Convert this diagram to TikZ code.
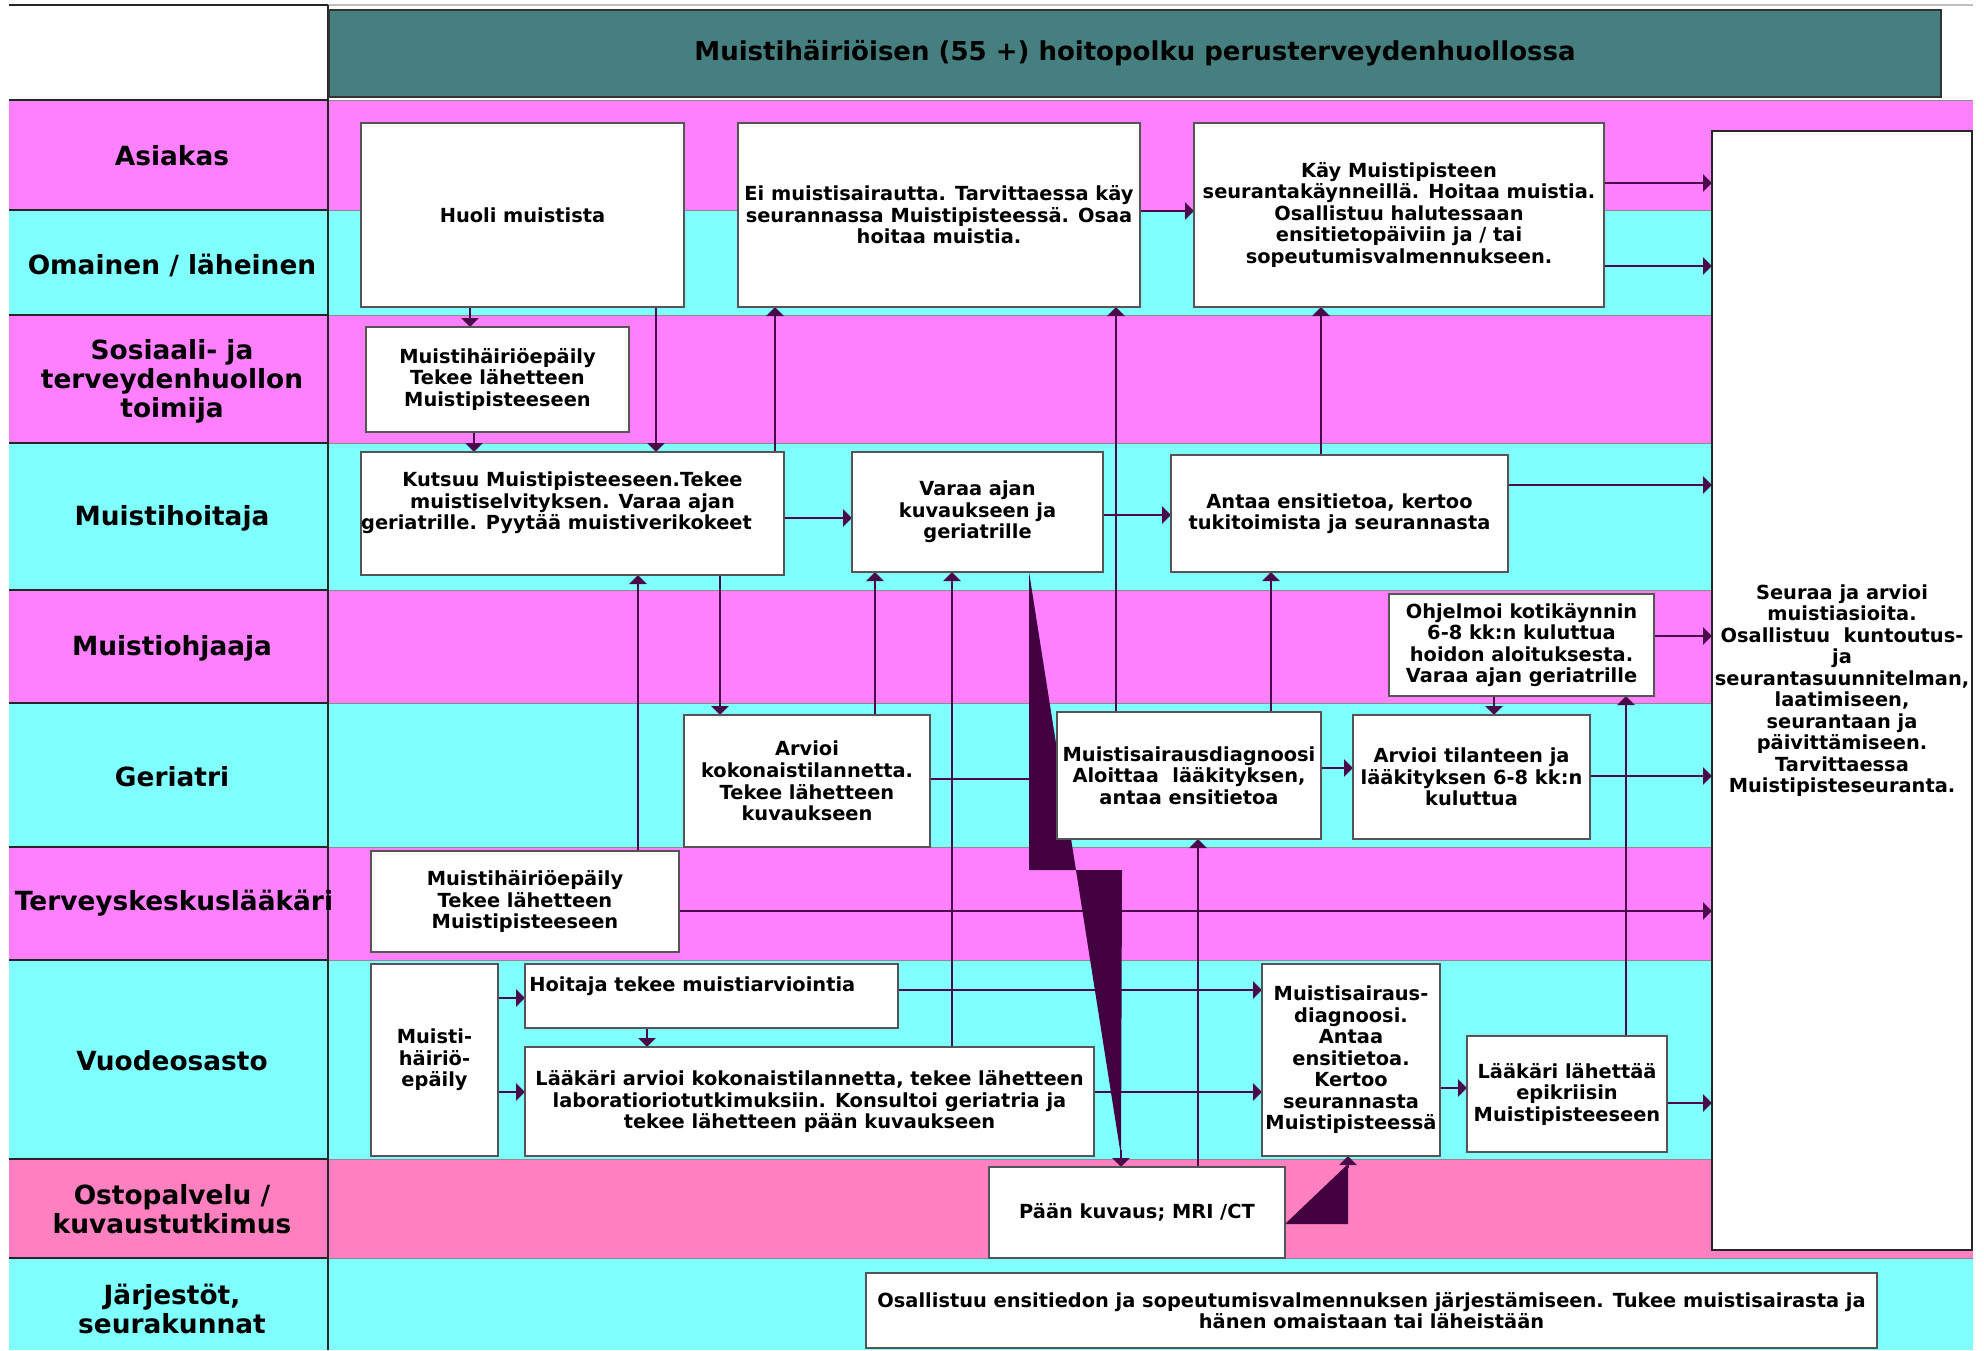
\documentclass[tikz,border=0pt]{standalone}
\usepackage{fontspec}
\setmainfont{DejaVu Sans}
\usetikzlibrary{arrows.meta}
\definecolor{lpink}{HTML}{FF80FF}
\definecolor{lcyan}{HTML}{80FFFF}
\definecolor{lrose}{HTML}{FF80C0}
\definecolor{tealt}{HTML}{457F7F}
\definecolor{lc}{HTML}{4A0A4A}
\definecolor{boltc}{HTML}{420040}
\definecolor{boxc}{HTML}{555555}
\newcommand\bxfont{\fontsize{9.7}{10.75}\selectfont\bfseries}
\newcommand\lblfont{\fontsize{13.2}{14.5}\selectfont\bfseries}
\pgfdeclarelayer{bg}\pgfdeclarelayer{mid}\pgfsetlayers{bg,mid,main}
\begin{document}
\begin{tikzpicture}[x=0.5pt,y=-0.5pt,
 box/.style={draw=boxc, fill=white, line width=0.6pt, inner sep=0pt, outer sep=0pt, align=center, font=\bxfont},
 txt/.style={inner sep=0pt, align=center, font=\bxfont},
 lbl/.style={inner sep=0pt, align=center, font=\lblfont},
 conn/.style={draw=lc, line width=1.15pt},
 arr/.style={conn, -{Triangle[width=8.5pt,length=4.5pt]}},
 bolt/.style={fill=boltc},
]
\useasboundingbox (0,0) rectangle (1984,1350);

% ---------- swimlanes ----------
\begin{pgfonlayer}{bg}
\fill[white] (0,0) rectangle (1984,1350);
\fill[lpink] (9,100) rectangle (1973,210);
\fill[lcyan] (9,210) rectangle (1973,315);
\fill[lpink] (9,315) rectangle (1973,443);
\fill[lcyan] (9,443) rectangle (1973,590);
\fill[lpink] (9,590) rectangle (1973,703);
\fill[lcyan] (9,703) rectangle (1973,847);
\fill[lpink] (9,847) rectangle (1973,960);
\fill[lcyan] (9,960) rectangle (1973,1159);
\fill[lrose] (9,1159) rectangle (1973,1258);
\fill[lcyan] (9,1258) rectangle (1973,1350);
\foreach \yy in {100,210,315,443,590,703,847,960,1159,1258}{
  \draw[black!85,line width=0.6pt] (9,\yy) -- (328,\yy);
  \draw[black!45,line width=0.5pt] (328,\yy) -- (1973,\yy);
}
\draw[black!85,line width=0.6pt] (9,5) -- (328,5);
\draw[black!25,line width=1pt] (328,5) -- (1973,5);
\draw[black!85,line width=0.6pt] (328,5) -- (328,1350);
\end{pgfonlayer}

% ---------- title ----------
\node[draw=black!80, line width=0.8pt, fill=tealt, minimum width=806pt, minimum height=43.5pt, inner sep=0pt,
      font=\fontsize{13}{15}\selectfont\bfseries] (title) at (1135,53.5)
      {Muistihäiriöisen (55 +) hoitopolku perusterveydenhuollossa};

% ---------- lane labels ----------
\node[lbl] (l1) at (172,156) {Asiakas};
\node[lbl] (l2) at (172,265) {Omainen / läheinen};
\node[lbl] (l3) at (172,381) {Sosiaali- ja\\terveydenhuollon\\toimija};
\node[lbl] (l4) at (172,518) {Muistihoitaja};
\node[lbl] (l5) at (172,648) {Muistiohjaaja};
\node[lbl] (l6) at (172,777) {Geriatri};
\node[lbl] (l7) at (174,903) {Terveyskeskuslääkäri};
\node[lbl] (l8) at (172,1061) {Vuodeosasto};
\node[lbl] (l9) at (172,1209) {Ostopalvelu /\\kuvaustutkimus};
\node[lbl] (l10) at (172,1309) {Järjestöt,\\seurakunnat};

% ---------- boxes ----------
\node[box, minimum width=161.5pt, minimum height=92pt] (huoli) at (522.5,215) {Huoli muistista};
\node[box, minimum width=131.5pt, minimum height=52.5pt] (sosbox) at (497.5,379.5)
  {Muistihäiriöepäily\\Tekee lähetteen\\Muistipisteeseen};
\node[box, minimum width=201pt, minimum height=92pt] (ei) at (939,215)
  {Ei muistisairautta. Tarvittaessa käy\\seurannassa Muistipisteessä. Osaa\\hoitaa muistia.};
\node[box, minimum width=205pt, minimum height=92pt] (kay) at (1399,215)
  {Käy Muistipisteen\\seurantakäynneillä. Hoitaa muistia.\\Osallistuu halutessaan\\ensitietopäiviin ja / tai\\sopeutumisvalmennukseen.};
\node[box, minimum width=211.5pt, minimum height=61.5pt] (kutsuu) at (572.5,513.5) {};
\node[txt] (kutsuu-t) at (572.5,503)
  {Kutsuu Muistipisteeseen.Tekee\\muistiselvityksen. Varaa ajan\\geriatrille. Pyytää muistiverikokeet\hspace*{16pt}};
\node[box, minimum width=125.5pt, minimum height=60pt] (varaa) at (977.5,512)
  {Varaa ajan\\kuvaukseen ja\\geriatrille};
\node[box, minimum width=168.5pt, minimum height=58.5pt] (antaa) at (1339.5,513.5)
  {Antaa ensitietoa, kertoo\\tukitoimista ja seurannasta};
\node[box, minimum width=132.5pt, minimum height=51pt] (ohjelmoi) at (1521.5,645)
  {Ohjelmoi kotikäynnin\\6-8 kk:n kuluttua\\hoidon aloituksesta.\\Varaa ajan geriatrille};
\node[box, minimum width=123pt, minimum height=66pt] (arvkok) at (807,781)
  {Arvioi\\kokonaistilannetta.\\Tekee lähetteen\\kuvaukseen};
\node[box, minimum width=132pt, minimum height=63.5pt] (diag) at (1189,775.5)
  {Muistisairausdiagnoosi\\Aloittaa\ \ lääkityksen,\\antaa ensitietoa};
\node[box, minimum width=118.5pt, minimum height=62pt] (arvtil) at (1471.5,777)
  {Arvioi tilanteen ja\\lääkityksen 6-8 kk:n\\kuluttua};
\node[box, minimum width=154pt, minimum height=50.5pt] (tk) at (525,901.5)
  {Muistihäiriöepäily\\Tekee lähetteen\\Muistipisteeseen};
\node[box, minimum width=63.5pt, minimum height=96pt] (mhe) at (434.5,1060)
  {Muisti-\\häiriö-\\epäily};
\node[box, minimum width=186.5pt, minimum height=32pt] (hoitaja) at (711.5,996) {};
\node[txt, anchor=west] (hoitaja-t) at (529,986) {Hoitaja tekee muistiarviointia};
\node[box, minimum width=284.5pt, minimum height=54.5pt] (laakari) at (809.5,1101.5)
  {Lääkäri arvioi kokonaistilannetta, tekee lähetteen\\laboratioriotutkimuksiin. Konsultoi geriatria ja\\tekee lähetteen pään kuvaukseen};
\node[box, minimum width=89pt, minimum height=96pt] (vdiag) at (1351,1060)
  {Muistisairaus-\\diagnoosi.\\Antaa\\ensitietoa.\\Kertoo\\seurannasta\\Muistipisteessä};
\node[box, minimum width=100pt, minimum height=58pt] (epikr) at (1567,1094)
  {Lääkäri lähettää\\epikriisin\\Muistipisteeseen};
\node[box, minimum width=148pt, minimum height=45.5pt] (paan) at (1137,1212.5)
  {Pään kuvaus; MRI /CT};
\node[box, minimum width=505.5pt, minimum height=37.5pt] (jarj) at (1371.5,1310.5)
  {Osallistuu ensitiedon ja sopeutumisvalmennuksen järjestämiseen. Tukee muistisairasta ja\\hänen omaistaan tai läheistään};
\node[box, draw=black!85, minimum width=130pt, minimum height=559.5pt] (seuraa) at (1842,690.5)
  {Seuraa ja arvioi\\muistiasioita.\\Osallistuu\ \ kuntoutus-\\ja\\seurantasuunnitelman,\\laatimiseen,\\seurantaan ja\\päivittämiseen.\\Tarvittaessa\\Muistipisteseuranta.};

% ---------- connectors ----------
\begin{pgfonlayer}{mid}
\draw[arr] (huoli.south -| 470,0) -- (sosbox.north -| 470,0);
\draw[arr] (sosbox.south -| 474,0) -- (kutsuu.north -| 474,0);
\draw[arr] (huoli.south -| 656,0) -- (kutsuu.north -| 656,0);
\draw[arr] (kutsuu.north -| 775,0) -- (ei.south -| 775,0);
\draw[arr] (ei.east |- 0,211) -- (kay.west |- 0,211);
\draw[arr] (diag.north -| 1116,0) -- (ei.south -| 1116,0);
\draw[arr] (antaa.north -| 1321,0) -- (kay.south -| 1321,0);
\draw[arr] (kay.east |- 0,183) -- (seuraa.west |- 0,183);
\draw[arr] (kay.east |- 0,266) -- (seuraa.west |- 0,266);
\draw[arr] (kutsuu.east |- 0,518) -- (varaa.west |- 0,518);
\draw[arr] (kutsuu.south -| 720,0) -- (arvkok.north -| 720,0);
\draw[arr] (arvkok.north -| 875,0) -- (varaa.south -| 875,0);
\draw[arr] (laakari.north -| 952,0) -- (varaa.south -| 952,0);
\draw[arr] (varaa.east |- 0,515) -- (antaa.west |- 0,515);
\draw[conn] (arvkok.east |- 0,779) -- (diag.west |- 0,779);
\draw[arr] (diag.east |- 0,768) -- (arvtil.west |- 0,768);
\draw[arr] (diag.north -| 1271,0) -- (antaa.south -| 1271,0);
\draw[arr] (paan.north -| 1198,0) -- (diag.south -| 1198,0);
\draw[arr] (antaa.east |- 0,485) -- (seuraa.west |- 0,485);
\draw[arr] (ohjelmoi.east |- 0,636) -- (seuraa.west |- 0,636);
\draw[arr] (ohjelmoi.south -| 1494,0) -- (arvtil.north -| 1494,0);
\draw[arr] (epikr.north -| 1626,0) -- (ohjelmoi.south -| 1626,0);
\draw[arr] (arvtil.east |- 0,776) -- (seuraa.west |- 0,776);
\draw[arr] (tk.east |- 0,911) -- (seuraa.west |- 0,911);
\draw[arr] (tk.north -| 638,0) -- (kutsuu.south -| 638,0);
\draw[arr] (mhe.east |- 0,998) -- (hoitaja.west |- 0,998);
\draw[arr] (mhe.east |- 0,1092) -- (laakari.west |- 0,1092);
\draw[arr] (hoitaja.south -| 647,0) -- (laakari.north -| 647,0);
\draw[arr] (hoitaja.east |- 0,990) -- (vdiag.west |- 0,990);
\draw[arr] (laakari.east |- 0,1092) -- (vdiag.west |- 0,1092);
\draw[arr] (vdiag.east |- 0,1088) -- (epikr.west |- 0,1088);
\draw[arr] (epikr.east |- 0,1103) -- (seuraa.west |- 0,1103);
% lightning connectors
\fill[bolt] (varaa.south -| 1029,0) -- (1029,870) -- (1122,870) -- (1121,1156) -- cycle;
\draw[arr] (1121,1150) -- (paan.north -| 1121,0);
\fill[bolt] (paan.east |- 0,1224) -- (1348,1224) -- (1348,1164) -- cycle;
\draw[arr] (1348,1168) -- (vdiag.south -| 1348,0);
\end{pgfonlayer}
\end{tikzpicture}
\end{document}
